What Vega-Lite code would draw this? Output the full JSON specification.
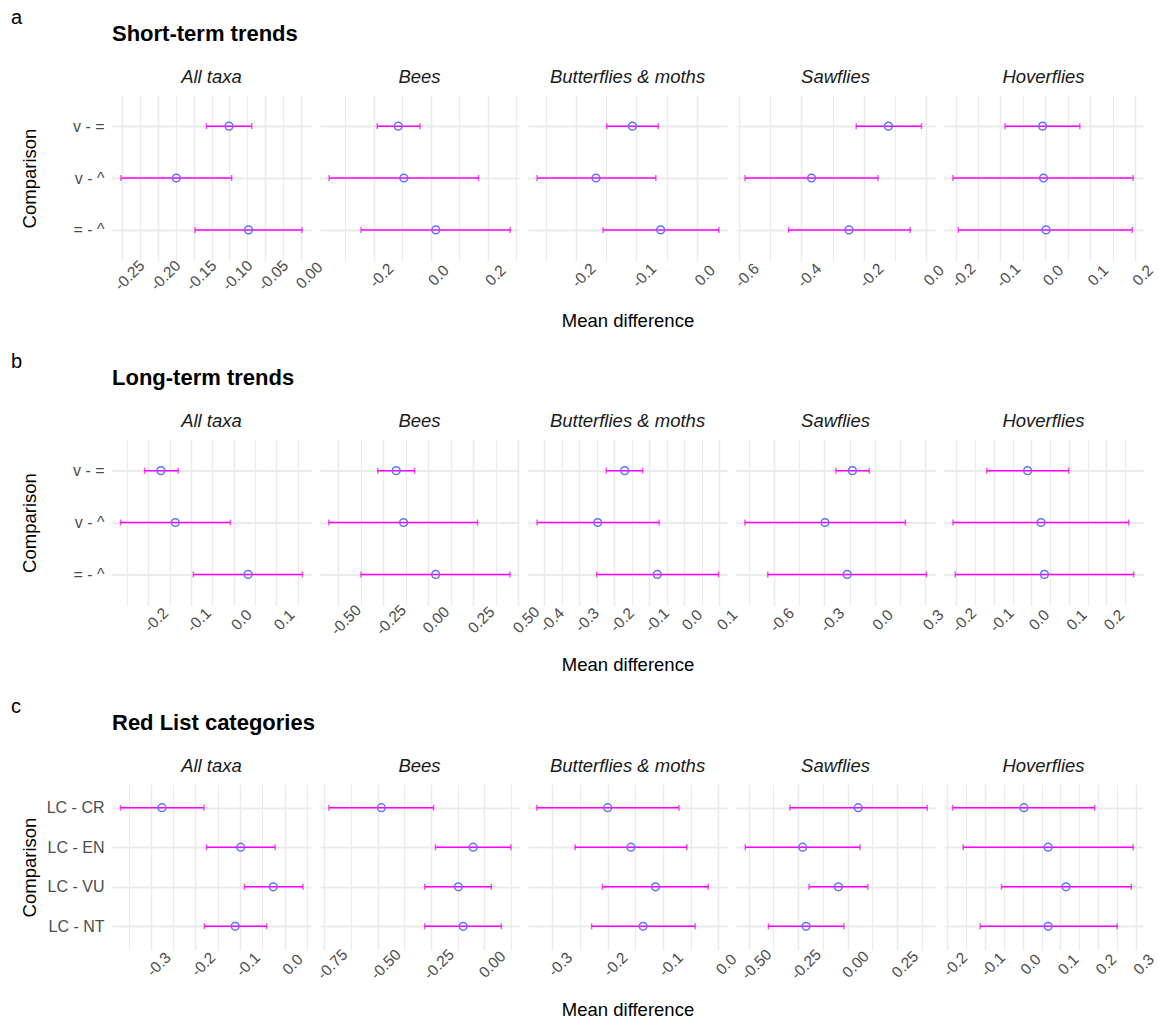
{
"$schema": "https://vega.github.io/schema/vega-lite/v6.json",
"background": "white",
"padding": {"left": 10, "top": 7, "right": 10, "bottom": 5},
"autosize": {"type": "pad"},
"config": {
 "font": "Liberation Sans",
 "view": {"stroke": null},
 "title": {"fontSize": 18.5, "fontStyle": "italic", "fontWeight": "normal", "color": "#1A1A1A", "anchor": "middle", "baseline": "alphabetic", "offset": 9},
 "axis": {"domain": false, "ticks": false, "gridColor": "#EBEBEB", "labelColor": "#4D4D4D", "labelFontSize": 15.5, "titleFontSize": 18.5, "titleFontWeight": "normal", "titleColor": "#000000"},
 "axisX": {"labelAngle": -45, "labelAlign": "center", "labelBaseline": "middle", "labelOffset": 7.5, "labelPadding": 14, "labelFlush": false, "labelOverlap": false, "labelBound": false, "titleY": 59, "titleBaseline": "middle"},
 "axisY": {"labelPadding": 8, "labelFontSize": 16, "titleX": -83, "titleY": 83, "titleAlign": "center", "titleBaseline": "middle"}
},
"datasets": {"d": [
 {"s":"a","t":"All taxa","c":"v - =","m":-0.1006,"lo":-0.132,"hi":-0.069},
 {"s":"a","t":"All taxa","c":"v - ^","m":-0.174,"lo":-0.251,"hi":-0.097},
 {"s":"a","t":"All taxa","c":"= - ^","m":-0.0734,"lo":-0.148,"hi":0.001},
 {"s":"a","t":"Bees","c":"v - =","m":-0.1135,"lo":-0.187,"hi":-0.037},
 {"s":"a","t":"Bees","c":"v - ^","m":-0.094,"lo":-0.356,"hi":0.168},
 {"s":"a","t":"Bees","c":"= - ^","m":0.018,"lo":-0.244,"hi":0.279},
 {"s":"a","t":"Butterflies & moths","c":"v - =","m":-0.1066,"lo":-0.149,"hi":-0.064},
 {"s":"a","t":"Butterflies & moths","c":"v - ^","m":-0.1667,"lo":-0.264,"hi":-0.068},
 {"s":"a","t":"Butterflies & moths","c":"= - ^","m":-0.06,"lo":-0.155,"hi":0.036},
 {"s":"a","t":"Sawflies","c":"v - =","m":-0.1205,"lo":-0.224,"hi":-0.0145},
 {"s":"a","t":"Sawflies","c":"v - ^","m":-0.3675,"lo":-0.581,"hi":-0.154},
 {"s":"a","t":"Sawflies","c":"= - ^","m":-0.247,"lo":-0.441,"hi":-0.0506},
 {"s":"a","t":"Hoverflies","c":"v - =","m":-0.006,"lo":-0.09,"hi":0.077},
 {"s":"a","t":"Hoverflies","c":"v - ^","m":-0.004,"lo":-0.206,"hi":0.196},
 {"s":"a","t":"Hoverflies","c":"= - ^","m":0.0017,"lo":-0.194,"hi":0.194},
 {"s":"b","t":"All taxa","c":"v - =","m":-0.1706,"lo":-0.2087,"hi":-0.13},
 {"s":"b","t":"All taxa","c":"v - ^","m":-0.1368,"lo":-0.265,"hi":-0.0078},
 {"s":"b","t":"All taxa","c":"= - ^","m":0.0338,"lo":-0.0944,"hi":0.161},
 {"s":"b","t":"Bees","c":"v - =","m":-0.1776,"lo":-0.28,"hi":-0.0755},
 {"s":"b","t":"Bees","c":"v - ^","m":-0.137,"lo":-0.551,"hi":0.273},
 {"s":"b","t":"Bees","c":"= - ^","m":0.041,"lo":-0.373,"hi":0.453},
 {"s":"b","t":"Butterflies & moths","c":"v - =","m":-0.17,"lo":-0.2225,"hi":-0.1187},
 {"s":"b","t":"Butterflies & moths","c":"v - ^","m":-0.247,"lo":-0.42,"hi":-0.0717},
 {"s":"b","t":"Butterflies & moths","c":"= - ^","m":-0.077,"lo":-0.25,"hi":0.098},
 {"s":"b","t":"Sawflies","c":"v - =","m":-0.134,"lo":-0.232,"hi":-0.0335},
 {"s":"b","t":"Sawflies","c":"v - ^","m":-0.297,"lo":-0.773,"hi":0.181},
 {"s":"b","t":"Sawflies","c":"= - ^","m":-0.165,"lo":-0.637,"hi":0.306},
 {"s":"b","t":"Hoverflies","c":"v - =","m":-0.01,"lo":-0.119,"hi":0.0997},
 {"s":"b","t":"Hoverflies","c":"v - ^","m":0.026,"lo":-0.209,"hi":0.26},
 {"s":"b","t":"Hoverflies","c":"= - ^","m":0.035,"lo":-0.203,"hi":0.273},
 {"s":"c","t":"All taxa","c":"LC - CR","m":-0.275,"lo":-0.368,"hi":-0.181},
 {"s":"c","t":"All taxa","c":"LC - EN","m":-0.0986,"lo":-0.175,"hi":-0.0215},
 {"s":"c","t":"All taxa","c":"LC - VU","m":-0.0257,"lo":-0.0903,"hi":0.0406},
 {"s":"c","t":"All taxa","c":"LC - NT","m":-0.111,"lo":-0.18,"hi":-0.0406},
 {"s":"c","t":"Bees","c":"LC - CR","m":-0.483,"lo":-0.729,"hi":-0.238},
 {"s":"c","t":"Bees","c":"LC - EN","m":-0.052,"lo":-0.229,"hi":0.125},
 {"s":"c","t":"Bees","c":"LC - VU","m":-0.1215,"lo":-0.2795,"hi":0.033},
 {"s":"c","t":"Bees","c":"LC - NT","m":-0.099,"lo":-0.2795,"hi":0.08},
 {"s":"c","t":"Butterflies & moths","c":"LC - CR","m":-0.2,"lo":-0.328,"hi":-0.0712},
 {"s":"c","t":"Butterflies & moths","c":"LC - EN","m":-0.158,"lo":-0.259,"hi":-0.057},
 {"s":"c","t":"Butterflies & moths","c":"LC - VU","m":-0.1136,"lo":-0.2095,"hi":-0.0183},
 {"s":"c","t":"Butterflies & moths","c":"LC - NT","m":-0.136,"lo":-0.229,"hi":-0.042},
 {"s":"c","t":"Sawflies","c":"LC - CR","m":0.053,"lo":-0.292,"hi":0.4015},
 {"s":"c","t":"Sawflies","c":"LC - EN","m":-0.2273,"lo":-0.517,"hi":0.0625},
 {"s":"c","t":"Sawflies","c":"LC - VU","m":-0.0473,"lo":-0.195,"hi":0.1015},
 {"s":"c","t":"Sawflies","c":"LC - NT","m":-0.21,"lo":-0.4,"hi":-0.0189},
 {"s":"c","t":"Hoverflies","c":"LC - CR","m":0.003,"lo":-0.186,"hi":0.191},
 {"s":"c","t":"Hoverflies","c":"LC - EN","m":0.0673,"lo":-0.158,"hi":0.293},
 {"s":"c","t":"Hoverflies","c":"LC - VU","m":0.1147,"lo":-0.0564,"hi":0.288},
 {"s":"c","t":"Hoverflies","c":"LC - NT","m":0.0673,"lo":-0.1129,"hi":0.2505}
]},
"spacing": 21.5,
"vconcat": [
{"title": {"text": "a", "anchor": "start", "fontSize": 20, "fontStyle": "normal", "fontWeight": "normal", "color": "#000000", "dx": -9, "offset": -5},
 "vconcat": [{"title": {"text": "Short-term trends", "anchor": "start", "fontSize": 22, "fontStyle": "normal", "fontWeight": "bold", "color": "#000000", "dx": 92, "offset": 22},
  "spacing": 9, "bounds": "flush",
  "hconcat": [
  {"width":199,"height":166,"title":"All taxa","data":{"name":"d"},"transform":[{"filter":"datum.s=='a'&&datum.t=='All taxa'"}],
   "encoding":{"x":{"field":"m","type":"quantitative","scale":{"domain":[-0.2635,0.0135],"nice":false,"zero":false},"axis":{"title":null,"grid":true,"values":[-0.25,-0.225,-0.2,-0.175,-0.15,-0.125,-0.1,-0.075,-0.05,-0.025,0],"labelExpr":"abs(datum.value/0.05-round(datum.value/0.05))<0.01?replace(format(datum.value,'.2f'),'\u2212','-'):''","gridWidth":{"condition":{"test":"abs(datum.value/0.05-round(datum.value/0.05))<0.01","value":1.5},"value":1.1}}}},
   "layer":[
    {"data":{"values":[{}]},"mark":{"type":"rule","strokeDash":[1.5,2.5],"strokeWidth":1.3,"color":"#222222"},"encoding":{"x":{"datum":0,"type":"quantitative"}}},
    {"mark":{"type":"errorbar","color":"#FF00FF","thickness":1.5,"ticks":{"size":6}},"encoding":{"x":{"field":"lo","type":"quantitative"},"x2":{"field":"hi"},"y":{"field":"c","type":"nominal","sort":["v - =","v - ^","= - ^"],"scale":{"type":"point","padding":0.6},"axis":{"title":"Comparison","grid":true,"gridWidth":1.8}}}},
    {"mark":{"type":"point","shape":"circle","filled":false,"size":60,"strokeWidth":1.5,"color":"#5D74FF","opacity":1},"encoding":{"y":{"field":"c","type":"nominal","sort":["v - =","v - ^","= - ^"],"scale":{"type":"point","padding":0.6},"axis":{"title":"Comparison","grid":true,"gridWidth":1.8}}}}
   ]},
  {"width":199,"height":166,"title":"Bees","data":{"name":"d"},"transform":[{"filter":"datum.s=='a'&&datum.t=='Bees'"}],
   "encoding":{"x":{"field":"m","type":"quantitative","scale":{"domain":[-0.388,0.31],"nice":false,"zero":false},"axis":{"title":null,"grid":true,"values":[-0.3,-0.2,-0.1,0,0.1,0.2,0.3],"labelExpr":"abs(datum.value/0.2-round(datum.value/0.2))<0.01?replace(format(datum.value,'.1f'),'\u2212','-'):''","gridWidth":{"condition":{"test":"abs(datum.value/0.2-round(datum.value/0.2))<0.01","value":1.5},"value":1.1}}}},
   "layer":[
    {"data":{"values":[{}]},"mark":{"type":"rule","strokeDash":[1.5,2.5],"strokeWidth":1.3,"color":"#222222"},"encoding":{"x":{"datum":0,"type":"quantitative"}}},
    {"mark":{"type":"errorbar","color":"#FF00FF","thickness":1.5,"ticks":{"size":6}},"encoding":{"x":{"field":"lo","type":"quantitative"},"x2":{"field":"hi"},"y":{"field":"c","type":"nominal","sort":["v - =","v - ^","= - ^"],"scale":{"type":"point","padding":0.6},"axis":{"title":null,"labels":false,"grid":true,"gridWidth":1.8}}}},
    {"mark":{"type":"point","shape":"circle","filled":false,"size":60,"strokeWidth":1.5,"color":"#5D74FF","opacity":1},"encoding":{"y":{"field":"c","type":"nominal","sort":["v - =","v - ^","= - ^"],"scale":{"type":"point","padding":0.6},"axis":{"title":null,"labels":false,"grid":true,"gridWidth":1.8}}}}
   ]},
  {"width":199,"height":166,"title":"Butterflies & moths","data":{"name":"d"},"transform":[{"filter":"datum.s=='a'&&datum.t=='Butterflies & moths'"}],
   "encoding":{"x":{"field":"m","type":"quantitative","scale":{"domain":[-0.279,0.0495],"nice":false,"zero":false},"axis":{"title":"Mean difference","grid":true,"values":[-0.25,-0.2,-0.15,-0.1,-0.05,0],"labelExpr":"abs(datum.value/0.1-round(datum.value/0.1))<0.01?replace(format(datum.value,'.1f'),'\u2212','-'):''","gridWidth":{"condition":{"test":"abs(datum.value/0.1-round(datum.value/0.1))<0.01","value":1.5},"value":1.1}}}},
   "layer":[
    {"data":{"values":[{}]},"mark":{"type":"rule","strokeDash":[1.5,2.5],"strokeWidth":1.3,"color":"#222222"},"encoding":{"x":{"datum":0,"type":"quantitative"}}},
    {"mark":{"type":"errorbar","color":"#FF00FF","thickness":1.5,"ticks":{"size":6}},"encoding":{"x":{"field":"lo","type":"quantitative"},"x2":{"field":"hi"},"y":{"field":"c","type":"nominal","sort":["v - =","v - ^","= - ^"],"scale":{"type":"point","padding":0.6},"axis":{"title":null,"labels":false,"grid":true,"gridWidth":1.8}}}},
    {"mark":{"type":"point","shape":"circle","filled":false,"size":60,"strokeWidth":1.5,"color":"#5D74FF","opacity":1},"encoding":{"y":{"field":"c","type":"nominal","sort":["v - =","v - ^","= - ^"],"scale":{"type":"point","padding":0.6},"axis":{"title":null,"labels":false,"grid":true,"gridWidth":1.8}}}}
   ]},
  {"width":199,"height":166,"title":"Sawflies","data":{"name":"d"},"transform":[{"filter":"datum.s=='a'&&datum.t=='Sawflies'"}],
   "encoding":{"x":{"field":"m","type":"quantitative","scale":{"domain":[-0.61,0.029],"nice":false,"zero":false},"axis":{"title":null,"grid":true,"values":[-0.6,-0.5,-0.4,-0.3,-0.2,-0.1,0],"labelExpr":"abs(datum.value/0.2-round(datum.value/0.2))<0.01?replace(format(datum.value,'.1f'),'\u2212','-'):''","gridWidth":{"condition":{"test":"abs(datum.value/0.2-round(datum.value/0.2))<0.01","value":1.5},"value":1.1}}}},
   "layer":[
    {"data":{"values":[{}]},"mark":{"type":"rule","strokeDash":[1.5,2.5],"strokeWidth":1.3,"color":"#222222"},"encoding":{"x":{"datum":0,"type":"quantitative"}}},
    {"mark":{"type":"errorbar","color":"#FF00FF","thickness":1.5,"ticks":{"size":6}},"encoding":{"x":{"field":"lo","type":"quantitative"},"x2":{"field":"hi"},"y":{"field":"c","type":"nominal","sort":["v - =","v - ^","= - ^"],"scale":{"type":"point","padding":0.6},"axis":{"title":null,"labels":false,"grid":true,"gridWidth":1.8}}}},
    {"mark":{"type":"point","shape":"circle","filled":false,"size":60,"strokeWidth":1.5,"color":"#5D74FF","opacity":1},"encoding":{"y":{"field":"c","type":"nominal","sort":["v - =","v - ^","= - ^"],"scale":{"type":"point","padding":0.6},"axis":{"title":null,"labels":false,"grid":true,"gridWidth":1.8}}}}
   ]},
  {"width":199,"height":166,"title":"Hoverflies","data":{"name":"d"},"transform":[{"filter":"datum.s=='a'&&datum.t=='Hoverflies'"}],
   "encoding":{"x":{"field":"m","type":"quantitative","scale":{"domain":[-0.226,0.218],"nice":false,"zero":false},"axis":{"title":null,"grid":true,"values":[-0.2,-0.15,-0.1,-0.05,0,0.05,0.1,0.15,0.2],"labelExpr":"abs(datum.value/0.1-round(datum.value/0.1))<0.01?replace(format(datum.value,'.1f'),'\u2212','-'):''","gridWidth":{"condition":{"test":"abs(datum.value/0.1-round(datum.value/0.1))<0.01","value":1.5},"value":1.1}}}},
   "layer":[
    {"data":{"values":[{}]},"mark":{"type":"rule","strokeDash":[1.5,2.5],"strokeWidth":1.3,"color":"#222222"},"encoding":{"x":{"datum":0,"type":"quantitative"}}},
    {"mark":{"type":"errorbar","color":"#FF00FF","thickness":1.5,"ticks":{"size":6}},"encoding":{"x":{"field":"lo","type":"quantitative"},"x2":{"field":"hi"},"y":{"field":"c","type":"nominal","sort":["v - =","v - ^","= - ^"],"scale":{"type":"point","padding":0.6},"axis":{"title":null,"labels":false,"grid":true,"gridWidth":1.8}}}},
    {"mark":{"type":"point","shape":"circle","filled":false,"size":60,"strokeWidth":1.5,"color":"#5D74FF","opacity":1},"encoding":{"y":{"field":"c","type":"nominal","sort":["v - =","v - ^","= - ^"],"scale":{"type":"point","padding":0.6},"axis":{"title":null,"labels":false,"grid":true,"gridWidth":1.8}}}}
   ]}
  ]}]},
{"title": {"text": "b", "anchor": "start", "fontSize": 20, "fontStyle": "normal", "fontWeight": "normal", "color": "#000000", "dx": -9, "offset": -5},
 "vconcat": [{"title": {"text": "Long-term trends", "anchor": "start", "fontSize": 22, "fontStyle": "normal", "fontWeight": "bold", "color": "#000000", "dx": 92, "offset": 22},
  "spacing": 9, "bounds": "flush",
  "hconcat": [
  {"width":199,"height":166,"title":"All taxa","data":{"name":"d"},"transform":[{"filter":"datum.s=='b'&&datum.t=='All taxa'"}],
   "encoding":{"x":{"field":"m","type":"quantitative","scale":{"domain":[-0.285,0.181],"nice":false,"zero":false},"axis":{"title":null,"grid":true,"values":[-0.25,-0.2,-0.15,-0.1,-0.05,0,0.05,0.1,0.15],"labelExpr":"abs(datum.value/0.1-round(datum.value/0.1))<0.01?replace(format(datum.value,'.1f'),'\u2212','-'):''","gridWidth":{"condition":{"test":"abs(datum.value/0.1-round(datum.value/0.1))<0.01","value":1.5},"value":1.1}}}},
   "layer":[
    {"data":{"values":[{}]},"mark":{"type":"rule","strokeDash":[1.5,2.5],"strokeWidth":1.3,"color":"#222222"},"encoding":{"x":{"datum":0,"type":"quantitative"}}},
    {"mark":{"type":"errorbar","color":"#FF00FF","thickness":1.5,"ticks":{"size":6}},"encoding":{"x":{"field":"lo","type":"quantitative"},"x2":{"field":"hi"},"y":{"field":"c","type":"nominal","sort":["v - =","v - ^","= - ^"],"scale":{"type":"point","padding":0.6},"axis":{"title":"Comparison","grid":true,"gridWidth":1.8}}}},
    {"mark":{"type":"point","shape":"circle","filled":false,"size":60,"strokeWidth":1.5,"color":"#5D74FF","opacity":1},"encoding":{"y":{"field":"c","type":"nominal","sort":["v - =","v - ^","= - ^"],"scale":{"type":"point","padding":0.6},"axis":{"title":"Comparison","grid":true,"gridWidth":1.8}}}}
   ]},
  {"width":199,"height":166,"title":"Bees","data":{"name":"d"},"transform":[{"filter":"datum.s=='b'&&datum.t=='Bees'"}],
   "encoding":{"x":{"field":"m","type":"quantitative","scale":{"domain":[-0.6,0.503],"nice":false,"zero":false},"axis":{"title":null,"grid":true,"values":[-0.5,-0.375,-0.25,-0.125,0,0.125,0.25,0.375,0.5],"labelExpr":"abs(datum.value/0.25-round(datum.value/0.25))<0.01?replace(format(datum.value,'.2f'),'\u2212','-'):''","gridWidth":{"condition":{"test":"abs(datum.value/0.25-round(datum.value/0.25))<0.01","value":1.5},"value":1.1}}}},
   "layer":[
    {"data":{"values":[{}]},"mark":{"type":"rule","strokeDash":[1.5,2.5],"strokeWidth":1.3,"color":"#222222"},"encoding":{"x":{"datum":0,"type":"quantitative"}}},
    {"mark":{"type":"errorbar","color":"#FF00FF","thickness":1.5,"ticks":{"size":6}},"encoding":{"x":{"field":"lo","type":"quantitative"},"x2":{"field":"hi"},"y":{"field":"c","type":"nominal","sort":["v - =","v - ^","= - ^"],"scale":{"type":"point","padding":0.6},"axis":{"title":null,"labels":false,"grid":true,"gridWidth":1.8}}}},
    {"mark":{"type":"point","shape":"circle","filled":false,"size":60,"strokeWidth":1.5,"color":"#5D74FF","opacity":1},"encoding":{"y":{"field":"c","type":"nominal","sort":["v - =","v - ^","= - ^"],"scale":{"type":"point","padding":0.6},"axis":{"title":null,"labels":false,"grid":true,"gridWidth":1.8}}}}
   ]},
  {"width":199,"height":166,"title":"Butterflies & moths","data":{"name":"d"},"transform":[{"filter":"datum.s=='b'&&datum.t=='Butterflies & moths'"}],
   "encoding":{"x":{"field":"m","type":"quantitative","scale":{"domain":[-0.446,0.122],"nice":false,"zero":false},"axis":{"title":"Mean difference","grid":true,"values":[-0.4,-0.35,-0.3,-0.25,-0.2,-0.15,-0.1,-0.05,0,0.05,0.1],"labelExpr":"abs(datum.value/0.1-round(datum.value/0.1))<0.01?replace(format(datum.value,'.1f'),'\u2212','-'):''","gridWidth":{"condition":{"test":"abs(datum.value/0.1-round(datum.value/0.1))<0.01","value":1.5},"value":1.1}}}},
   "layer":[
    {"data":{"values":[{}]},"mark":{"type":"rule","strokeDash":[1.5,2.5],"strokeWidth":1.3,"color":"#222222"},"encoding":{"x":{"datum":0,"type":"quantitative"}}},
    {"mark":{"type":"errorbar","color":"#FF00FF","thickness":1.5,"ticks":{"size":6}},"encoding":{"x":{"field":"lo","type":"quantitative"},"x2":{"field":"hi"},"y":{"field":"c","type":"nominal","sort":["v - =","v - ^","= - ^"],"scale":{"type":"point","padding":0.6},"axis":{"title":null,"labels":false,"grid":true,"gridWidth":1.8}}}},
    {"mark":{"type":"point","shape":"circle","filled":false,"size":60,"strokeWidth":1.5,"color":"#5D74FF","opacity":1},"encoding":{"y":{"field":"c","type":"nominal","sort":["v - =","v - ^","= - ^"],"scale":{"type":"point","padding":0.6},"axis":{"title":null,"labels":false,"grid":true,"gridWidth":1.8}}}}
   ]},
  {"width":199,"height":166,"title":"Sawflies","data":{"name":"d"},"transform":[{"filter":"datum.s=='b'&&datum.t=='Sawflies'"}],
   "encoding":{"x":{"field":"m","type":"quantitative","scale":{"domain":[-0.826,0.357],"nice":false,"zero":false},"axis":{"title":null,"grid":true,"values":[-0.75,-0.6,-0.45,-0.3,-0.15,0,0.15,0.3],"labelExpr":"abs(datum.value/0.3-round(datum.value/0.3))<0.01?replace(format(datum.value,'.1f'),'\u2212','-'):''","gridWidth":{"condition":{"test":"abs(datum.value/0.3-round(datum.value/0.3))<0.01","value":1.5},"value":1.1}}}},
   "layer":[
    {"data":{"values":[{}]},"mark":{"type":"rule","strokeDash":[1.5,2.5],"strokeWidth":1.3,"color":"#222222"},"encoding":{"x":{"datum":0,"type":"quantitative"}}},
    {"mark":{"type":"errorbar","color":"#FF00FF","thickness":1.5,"ticks":{"size":6}},"encoding":{"x":{"field":"lo","type":"quantitative"},"x2":{"field":"hi"},"y":{"field":"c","type":"nominal","sort":["v - =","v - ^","= - ^"],"scale":{"type":"point","padding":0.6},"axis":{"title":null,"labels":false,"grid":true,"gridWidth":1.8}}}},
    {"mark":{"type":"point","shape":"circle","filled":false,"size":60,"strokeWidth":1.5,"color":"#5D74FF","opacity":1},"encoding":{"y":{"field":"c","type":"nominal","sort":["v - =","v - ^","= - ^"],"scale":{"type":"point","padding":0.6},"axis":{"title":null,"labels":false,"grid":true,"gridWidth":1.8}}}}
   ]},
  {"width":199,"height":166,"title":"Hoverflies","data":{"name":"d"},"transform":[{"filter":"datum.s=='b'&&datum.t=='Hoverflies'"}],
   "encoding":{"x":{"field":"m","type":"quantitative","scale":{"domain":[-0.233,0.298],"nice":false,"zero":false},"axis":{"title":null,"grid":true,"values":[-0.2,-0.15,-0.1,-0.05,0,0.05,0.1,0.15,0.2,0.25],"labelExpr":"abs(datum.value/0.1-round(datum.value/0.1))<0.01?replace(format(datum.value,'.1f'),'\u2212','-'):''","gridWidth":{"condition":{"test":"abs(datum.value/0.1-round(datum.value/0.1))<0.01","value":1.5},"value":1.1}}}},
   "layer":[
    {"data":{"values":[{}]},"mark":{"type":"rule","strokeDash":[1.5,2.5],"strokeWidth":1.3,"color":"#222222"},"encoding":{"x":{"datum":0,"type":"quantitative"}}},
    {"mark":{"type":"errorbar","color":"#FF00FF","thickness":1.5,"ticks":{"size":6}},"encoding":{"x":{"field":"lo","type":"quantitative"},"x2":{"field":"hi"},"y":{"field":"c","type":"nominal","sort":["v - =","v - ^","= - ^"],"scale":{"type":"point","padding":0.6},"axis":{"title":null,"labels":false,"grid":true,"gridWidth":1.8}}}},
    {"mark":{"type":"point","shape":"circle","filled":false,"size":60,"strokeWidth":1.5,"color":"#5D74FF","opacity":1},"encoding":{"y":{"field":"c","type":"nominal","sort":["v - =","v - ^","= - ^"],"scale":{"type":"point","padding":0.6},"axis":{"title":null,"labels":false,"grid":true,"gridWidth":1.8}}}}
   ]}
  ]}]},
{"title": {"text": "c", "anchor": "start", "fontSize": 20, "fontStyle": "normal", "fontWeight": "normal", "color": "#000000", "dx": -9, "offset": -5},
 "vconcat": [{"title": {"text": "Red List categories", "anchor": "start", "fontSize": 22, "fontStyle": "normal", "fontWeight": "bold", "color": "#000000", "dx": 92, "offset": 22},
  "spacing": 9, "bounds": "flush",
  "hconcat": [
  {"width":199,"height":166,"title":"All taxa","data":{"name":"d"},"transform":[{"filter":"datum.s=='c'&&datum.t=='All taxa'"}],
   "encoding":{"x":{"field":"m","type":"quantitative","scale":{"domain":[-0.387,0.0588],"nice":false,"zero":false},"axis":{"title":null,"grid":true,"values":[-0.35,-0.3,-0.25,-0.2,-0.15,-0.1,-0.05,0,0.05],"labelExpr":"abs(datum.value/0.1-round(datum.value/0.1))<0.01?replace(format(datum.value,'.1f'),'\u2212','-'):''","gridWidth":{"condition":{"test":"abs(datum.value/0.1-round(datum.value/0.1))<0.01","value":1.5},"value":1.1}}}},
   "layer":[
    {"data":{"values":[{}]},"mark":{"type":"rule","strokeDash":[1.5,2.5],"strokeWidth":1.3,"color":"#222222"},"encoding":{"x":{"datum":0,"type":"quantitative"}}},
    {"mark":{"type":"errorbar","color":"#FF00FF","thickness":1.5,"ticks":{"size":6}},"encoding":{"x":{"field":"lo","type":"quantitative"},"x2":{"field":"hi"},"y":{"field":"c","type":"nominal","sort":["LC - CR","LC - EN","LC - VU","LC - NT"],"scale":{"type":"point","padding":0.6},"axis":{"title":"Comparison","grid":true,"gridWidth":1.8}}}},
    {"mark":{"type":"point","shape":"circle","filled":false,"size":60,"strokeWidth":1.5,"color":"#5D74FF","opacity":1},"encoding":{"y":{"field":"c","type":"nominal","sort":["LC - CR","LC - EN","LC - VU","LC - NT"],"scale":{"type":"point","padding":0.6},"axis":{"title":"Comparison","grid":true,"gridWidth":1.8}}}}
   ]},
  {"width":199,"height":166,"title":"Bees","data":{"name":"d"},"transform":[{"filter":"datum.s=='c'&&datum.t=='Bees'"}],
   "encoding":{"x":{"field":"m","type":"quantitative","scale":{"domain":[-0.771,0.163],"nice":false,"zero":false},"axis":{"title":null,"grid":true,"values":[-0.75,-0.625,-0.5,-0.375,-0.25,-0.125,0,0.125],"labelExpr":"abs(datum.value/0.25-round(datum.value/0.25))<0.01?replace(format(datum.value,'.2f'),'\u2212','-'):''","gridWidth":{"condition":{"test":"abs(datum.value/0.25-round(datum.value/0.25))<0.01","value":1.5},"value":1.1}}}},
   "layer":[
    {"data":{"values":[{}]},"mark":{"type":"rule","strokeDash":[1.5,2.5],"strokeWidth":1.3,"color":"#222222"},"encoding":{"x":{"datum":0,"type":"quantitative"}}},
    {"mark":{"type":"errorbar","color":"#FF00FF","thickness":1.5,"ticks":{"size":6}},"encoding":{"x":{"field":"lo","type":"quantitative"},"x2":{"field":"hi"},"y":{"field":"c","type":"nominal","sort":["LC - CR","LC - EN","LC - VU","LC - NT"],"scale":{"type":"point","padding":0.6},"axis":{"title":null,"labels":false,"grid":true,"gridWidth":1.8}}}},
    {"mark":{"type":"point","shape":"circle","filled":false,"size":60,"strokeWidth":1.5,"color":"#5D74FF","opacity":1},"encoding":{"y":{"field":"c","type":"nominal","sort":["LC - CR","LC - EN","LC - VU","LC - NT"],"scale":{"type":"point","padding":0.6},"axis":{"title":null,"labels":false,"grid":true,"gridWidth":1.8}}}}
   ]},
  {"width":199,"height":166,"title":"Butterflies & moths","data":{"name":"d"},"transform":[{"filter":"datum.s=='c'&&datum.t=='Butterflies & moths'"}],
   "encoding":{"x":{"field":"m","type":"quantitative","scale":{"domain":[-0.344,0.0156],"nice":false,"zero":false},"axis":{"title":"Mean difference","grid":true,"values":[-0.3,-0.25,-0.2,-0.15,-0.1,-0.05,0],"labelExpr":"abs(datum.value/0.1-round(datum.value/0.1))<0.01?replace(format(datum.value,'.1f'),'\u2212','-'):''","gridWidth":{"condition":{"test":"abs(datum.value/0.1-round(datum.value/0.1))<0.01","value":1.5},"value":1.1}}}},
   "layer":[
    {"data":{"values":[{}]},"mark":{"type":"rule","strokeDash":[1.5,2.5],"strokeWidth":1.3,"color":"#222222"},"encoding":{"x":{"datum":0,"type":"quantitative"}}},
    {"mark":{"type":"errorbar","color":"#FF00FF","thickness":1.5,"ticks":{"size":6}},"encoding":{"x":{"field":"lo","type":"quantitative"},"x2":{"field":"hi"},"y":{"field":"c","type":"nominal","sort":["LC - CR","LC - EN","LC - VU","LC - NT"],"scale":{"type":"point","padding":0.6},"axis":{"title":null,"labels":false,"grid":true,"gridWidth":1.8}}}},
    {"mark":{"type":"point","shape":"circle","filled":false,"size":60,"strokeWidth":1.5,"color":"#5D74FF","opacity":1},"encoding":{"y":{"field":"c","type":"nominal","sort":["LC - CR","LC - EN","LC - VU","LC - NT"],"scale":{"type":"point","padding":0.6},"axis":{"title":null,"labels":false,"grid":true,"gridWidth":1.8}}}}
   ]},
  {"width":199,"height":166,"title":"Sawflies","data":{"name":"d"},"transform":[{"filter":"datum.s=='c'&&datum.t=='Sawflies'"}],
   "encoding":{"x":{"field":"m","type":"quantitative","scale":{"domain":[-0.564,0.441],"nice":false,"zero":false},"axis":{"title":null,"grid":true,"values":[-0.5,-0.375,-0.25,-0.125,0,0.125,0.25,0.375],"labelExpr":"abs(datum.value/0.25-round(datum.value/0.25))<0.01?replace(format(datum.value,'.2f'),'\u2212','-'):''","gridWidth":{"condition":{"test":"abs(datum.value/0.25-round(datum.value/0.25))<0.01","value":1.5},"value":1.1}}}},
   "layer":[
    {"data":{"values":[{}]},"mark":{"type":"rule","strokeDash":[1.5,2.5],"strokeWidth":1.3,"color":"#222222"},"encoding":{"x":{"datum":0,"type":"quantitative"}}},
    {"mark":{"type":"errorbar","color":"#FF00FF","thickness":1.5,"ticks":{"size":6}},"encoding":{"x":{"field":"lo","type":"quantitative"},"x2":{"field":"hi"},"y":{"field":"c","type":"nominal","sort":["LC - CR","LC - EN","LC - VU","LC - NT"],"scale":{"type":"point","padding":0.6},"axis":{"title":null,"labels":false,"grid":true,"gridWidth":1.8}}}},
    {"mark":{"type":"point","shape":"circle","filled":false,"size":60,"strokeWidth":1.5,"color":"#5D74FF","opacity":1},"encoding":{"y":{"field":"c","type":"nominal","sort":["LC - CR","LC - EN","LC - VU","LC - NT"],"scale":{"type":"point","padding":0.6},"axis":{"title":null,"labels":false,"grid":true,"gridWidth":1.8}}}}
   ]},
  {"width":199,"height":166,"title":"Hoverflies","data":{"name":"d"},"transform":[{"filter":"datum.s=='c'&&datum.t=='Hoverflies'"}],
   "encoding":{"x":{"field":"m","type":"quantitative","scale":{"domain":[-0.209,0.319],"nice":false,"zero":false},"axis":{"title":null,"grid":true,"values":[-0.2,-0.15,-0.1,-0.05,0,0.05,0.1,0.15,0.2,0.25,0.3],"labelExpr":"abs(datum.value/0.1-round(datum.value/0.1))<0.01?replace(format(datum.value,'.1f'),'\u2212','-'):''","gridWidth":{"condition":{"test":"abs(datum.value/0.1-round(datum.value/0.1))<0.01","value":1.5},"value":1.1}}}},
   "layer":[
    {"data":{"values":[{}]},"mark":{"type":"rule","strokeDash":[1.5,2.5],"strokeWidth":1.3,"color":"#222222"},"encoding":{"x":{"datum":0,"type":"quantitative"}}},
    {"mark":{"type":"errorbar","color":"#FF00FF","thickness":1.5,"ticks":{"size":6}},"encoding":{"x":{"field":"lo","type":"quantitative"},"x2":{"field":"hi"},"y":{"field":"c","type":"nominal","sort":["LC - CR","LC - EN","LC - VU","LC - NT"],"scale":{"type":"point","padding":0.6},"axis":{"title":null,"labels":false,"grid":true,"gridWidth":1.8}}}},
    {"mark":{"type":"point","shape":"circle","filled":false,"size":60,"strokeWidth":1.5,"color":"#5D74FF","opacity":1},"encoding":{"y":{"field":"c","type":"nominal","sort":["LC - CR","LC - EN","LC - VU","LC - NT"],"scale":{"type":"point","padding":0.6},"axis":{"title":null,"labels":false,"grid":true,"gridWidth":1.8}}}}
   ]}
  ]}]}
]
}
